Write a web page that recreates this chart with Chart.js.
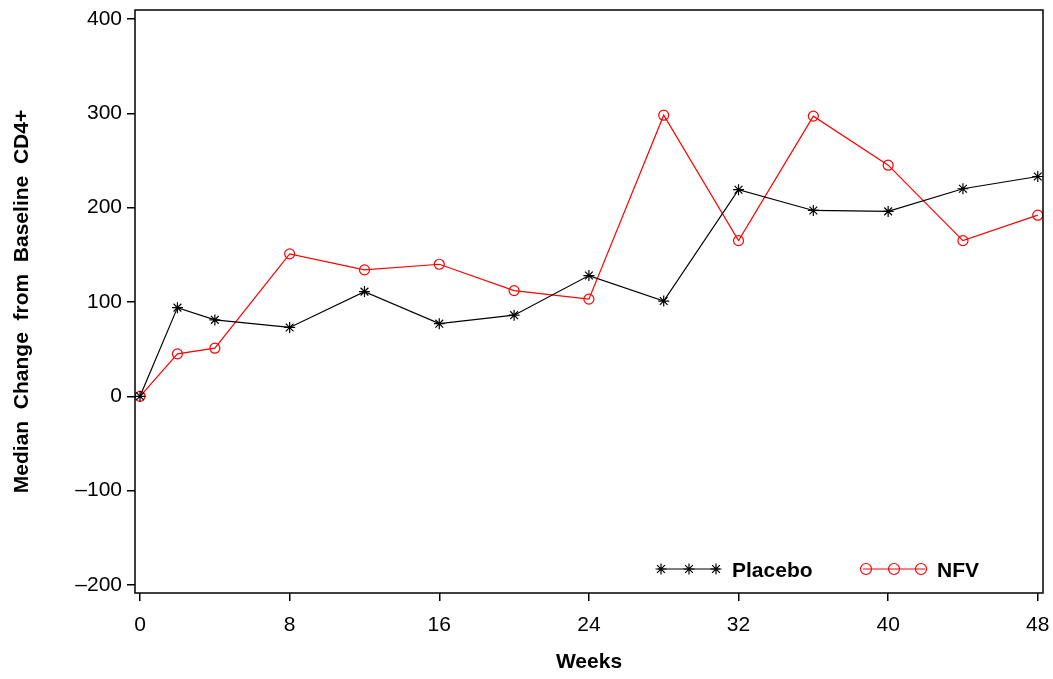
<!DOCTYPE html>
<html>
<head>
<meta charset="utf-8">
<script src="https://cdn.jsdelivr.net/npm/chart.js@4"></script>
<style>
  html, body { margin: 0; padding: 0; background: #fff; }
  #wrap { width: 1053px; height: 679px; }
</style>
</head>
<body>
<div id="wrap"><canvas id="chart" width="1053" height="679"></canvas></div>
<script>
// data
const weeks = [0, 2, 4, 8, 12, 16, 20, 24, 28, 32, 36, 40, 44, 48];
const placebo = [0, 94, 81, 73, 111, 77, 86, 128, 101, 219, 197, 196, 220, 233];
const nfv = [0, 45, 51, 151, 134, 140, 112, 103, 298, 165, 297, 245, 165, 192];
const xTicks = [0, 8, 16, 24, 32, 40, 48];
const yTicks = [-200, -100, 0, 100, 200, 300, 400];

const FONT = "'Liberation Sans', Arial, sans-serif";

// frame round the plot area + legend with three markers like the original
const framePlugin = {
  id: "frame",
  afterDraw(chart) {
    const ctx = chart.ctx;
    const a = chart.chartArea;
    ctx.save();
    ctx.strokeStyle = "#000";
    ctx.lineWidth = 1.5;
    ctx.strokeRect(a.left, a.top, a.right - a.left, a.bottom - a.top);

    const items = [
      { label: "Placebo", color: "#000", style: "star", x: 658 },
      { label: "NFV", color: "#ff0000", style: "circle", x: 863 },
    ];
    const y = a.bottom - 24;
    items.forEach((it) => {
      ctx.strokeStyle = it.color;
      ctx.fillStyle = "rgba(0,0,0,0)";
      ctx.lineWidth = 1.2;
      ctx.beginPath();
      ctx.moveTo(it.x, y);
      ctx.lineTo(it.x + 62, y);
      ctx.stroke();
      [it.x + 3, it.x + 31, it.x + 58].forEach((mx) => {
        Chart.helpers.drawPoint(ctx, { pointStyle: it.style, radius: 5.5, borderWidth: 1.2 }, mx, y);
      });
      ctx.fillStyle = "#000";
      ctx.font = "bold 21px " + FONT;
      ctx.textBaseline = "middle";
      ctx.textAlign = "left";
      ctx.fillText(it.label, it.x + 74, y + 2);
    });
    ctx.restore();
  },
};

new Chart(document.getElementById("chart"), {
  type: "line",
  data: {
    labels: weeks,
    datasets: [
      {
        label: "Placebo",
        data: weeks.map((w, i) => ({ x: w, y: placebo[i] })),
        borderColor: "#000",
        backgroundColor: "#000",
        borderWidth: 1.2,
        pointStyle: "star",
        pointRadius: 5.5,
        pointBorderWidth: 1.2,
        tension: 0,
      },
      {
        label: "NFV",
        data: weeks.map((w, i) => ({ x: w, y: nfv[i] })),
        borderColor: "#ff0000",
        backgroundColor: "rgba(0,0,0,0)",
        borderWidth: 1.2,
        pointStyle: "circle",
        pointRadius: 5,
        pointBorderWidth: 1.2,
        tension: 0,
      },
    ],
  },
  options: {
    responsive: false,
    animation: false,
    layout: { padding: { top: 10, right: 10, left: 0, bottom: 0 } },
    plugins: {
      legend: { display: false },
      tooltip: { enabled: false },
    },
    scales: {
      x: {
        type: "linear",
        min: -0.27,
        max: 48.28,
        afterBuildTicks: (s) => { s.ticks = xTicks.map((v) => ({ value: v })); },
        afterFit: (s) => {
          s.height = 86;
          s.paddingLeft = 0;
          s.paddingRight = 0;
        },
        grid: { drawOnChartArea: false, tickLength: 8, color: "#000", tickColor: "#000", lineWidth: 1.5 },
        border: { display: false },
        ticks: { color: "#000", padding: 12, maxRotation: 0, font: { family: FONT, size: 21 } },
        title: { display: true, text: "Weeks", color: "#000", padding: { top: 12 }, font: { family: FONT, size: 21, weight: "bold" } },
      },
      y: {
        min: -208.5,
        max: 409.5,
        afterBuildTicks: (s) => { s.ticks = yTicks.map((v) => ({ value: v })); },
        afterFit: (s) => {
          s.width = 135;
          s.paddingTop = 0;
          s.paddingBottom = 0;
        },
        grid: { drawOnChartArea: false, tickLength: 8, color: "#000", tickColor: "#000", lineWidth: 1.5 },
        border: { display: false },
        ticks: {
          color: "#000",
          padding: 5,
          font: { family: FONT, size: 21 },
          callback: (v) => (v < 0 ? "\u2013" + Math.abs(v) : String(v)),
        },
        title: {
          display: true,
          text: "Median  Change  from  Baseline  CD4+",
          color: "#000",
          padding: { top: 10, bottom: 4 },
          font: { family: FONT, size: 21, weight: "bold" },
        },
      },
    },
  },
  plugins: [framePlugin],
});
</script>
</body>
</html>
